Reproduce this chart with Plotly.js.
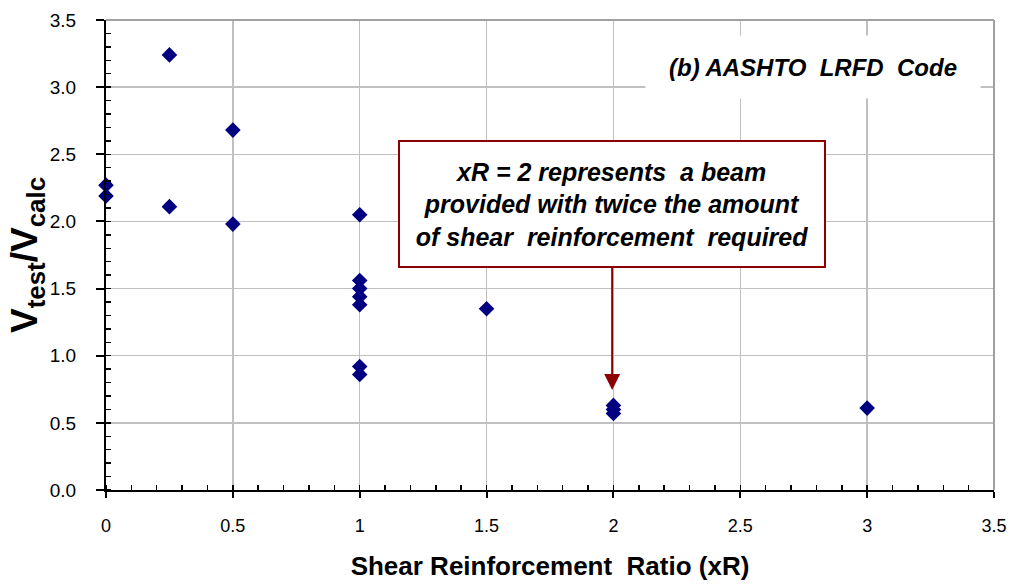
<!DOCTYPE html>
<html>
<head>
<meta charset="utf-8">
<script src="https://cdn.plot.ly/plotly-3.0.1.min.js"></script>
<style>html,body{margin:0;padding:0;background:#fff;}#chart{width:1011px;height:586px;}</style>
</head>
<body>
<div id="chart"></div>
<script>
const shearRatio = [0, 0, 0.25, 0.25, 0.5, 0.5, 1, 1, 1, 1, 1, 1, 1, 1.5, 2, 2, 2, 3];
const vTestOverCalc = [2.27, 2.19, 3.24, 2.11, 2.68, 1.98, 2.05, 1.56, 1.50, 1.44, 1.38, 0.92, 0.86, 1.35, 0.63, 0.60, 0.57, 0.61];
const xTickVals = [0, 0.5, 1, 1.5, 2, 2.5, 3, 3.5];
const xTickText = ['0', '0.5', '1', '1.5', '2', '2.5', '3', '3.5'];
const yTickVals = [0, 0.5, 1, 1.5, 2, 2.5, 3, 3.5];
const yTickText = ['0.0', '0.5', '1.0', '1.5', '2.0', '2.5', '3.0', '3.5'];
const panelLabel = '(b) AASHTO  LRFD  Code';
const noteText = 'xR = 2 represents  a beam<br>provided with twice the amount<br>of shear  reinforcement  required';
const noteAnchor = {x: 1.995, y: 0.745, boxX: 1.995, boxY: 2.13};

const font = 'Arial, "Liberation Sans", sans-serif';

const trace = {
  x: shearRatio, y: vTestOverCalc, type: 'scatter', mode: 'markers',
  marker: {symbol: 'diamond', size: 12, color: '#000080', line: {width: 0}},
  cliponaxis: false, hoverinfo: 'skip'
};

const layout = {
  width: 1011, height: 586,
  margin: {l: 106, r: 17, t: 20, b: 96},
  paper_bgcolor: '#fff', plot_bgcolor: '#fff',
  showlegend: false,
  font: {family: font, color: '#000'},
  xaxis: {
    range: [0, 3.5], tickvals: xTickVals, ticktext: xTickText,
    showgrid: true, gridcolor: '#c0c0c0', gridwidth: 1.5,
    zeroline: false, showline: true, linecolor: '#000', linewidth: 2,
    ticks: 'outside', ticklen: 6, tickwidth: 2, tickcolor: '#000',
    minor: {dtick: 0.1, ticks: 'inside', ticklen: 5, tickwidth: 1.5, tickcolor: '#000', showgrid: false},
    tickfont: {size: 18, family: font}, ticklabelstandoff: 12,
    title: {text: '<b>Shear Reinforcement  Ratio (xR)</b>', font: {size: 26, family: font}, standoff: 22},
    fixedrange: true
  },
  yaxis: {
    range: [0, 3.5], tickvals: yTickVals, ticktext: yTickText,
    showgrid: true, gridcolor: '#c0c0c0', gridwidth: 1.5,
    zeroline: false, showline: true, linecolor: '#000', linewidth: 2,
    ticks: 'outside', ticklen: 8, tickwidth: 2, tickcolor: '#000',
    minor: {dtick: 0.1, ticks: 'inside', ticklen: 5, tickwidth: 1.5, tickcolor: '#000', showgrid: false},
    tickfont: {size: 19, family: font}, ticklabelstandoff: 16,
    title: {text: '<b>V<sub>test</sub>/V<sub>calc</sub></b>', font: {size: 37, family: font}, standoff: 0},
    fixedrange: true
  },
  shapes: [
    {type: 'line', xref: 'paper', yref: 'paper', x0: 1, x1: 1, y0: 0, y1: 1, line: {color: '#a0a0a0', width: 2}},
    {type: 'line', xref: 'paper', yref: 'paper', x0: 0, x1: 1, y0: 1, y1: 1, line: {color: '#a0a0a0', width: 2}}
  ],
  annotations: [
    {
      xref: 'paper', yref: 'paper', x: 0.607, y: 0.9, xanchor: 'left', yanchor: 'middle',
      text: '<b><i>' + panelLabel + '</i></b>', showarrow: false,
      font: {size: 24, family: font, color: '#000'},
      bgcolor: '#fff', width: 332, height: 60, align: 'center'
    },
    {
      xref: 'x', yref: 'y', x: noteAnchor.x, y: noteAnchor.y,
      axref: 'x', ayref: 'y', ax: noteAnchor.boxX, ay: noteAnchor.boxY,
      text: '<b><i>' + noteText + '</i></b>', showarrow: true,
      arrowhead: 2, arrowsize: 1.6, arrowwidth: 2, arrowcolor: '#8b0000',
      font: {size: 25, family: font, color: '#000'},
      bgcolor: '#fff', bordercolor: '#8b0000', borderwidth: 2, borderpad: 2,
      width: 420, height: 120, align: 'center'
    }
  ]
};

Plotly.newPlot('chart', [trace], layout, {displayModeBar: false, staticPlot: true});
</script>
</body>
</html>
